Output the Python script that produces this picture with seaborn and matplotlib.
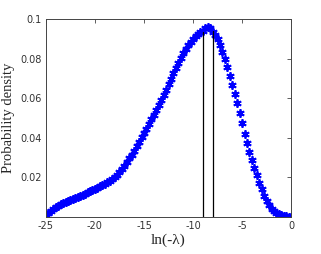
import matplotlib
matplotlib.use("Agg")
import matplotlib.pyplot as plt
import seaborn as sns
import pandas as pd

# ln(-lambda) values and their estimated probability density
ln_lambda = [-25.0, -24.75, -24.5, -24.25, -24.0, -23.75, -23.5, -23.25, -23.0, -22.75,
             -22.5, -22.25, -22.0, -21.75, -21.5, -21.25, -21.0, -20.75, -20.5, -20.25,
             -20.0, -19.75, -19.5, -19.25, -19.0, -18.75, -18.5, -18.25, -18.0, -17.75,
             -17.5, -17.25, -17.0, -16.75, -16.5, -16.25, -16.0, -15.75, -15.5, -15.25,
             -15.0, -14.75, -14.5, -14.25, -14.0, -13.75, -13.5, -13.25, -13.0, -12.75,
             -12.5, -12.25, -12.0, -11.75, -11.5, -11.25, -11.0, -10.75, -10.5, -10.25,
             -10.0, -9.75, -9.5, -9.25, -9.0, -8.75, -8.5, -8.25, -8.0, -7.75,
             -7.5, -7.25, -7.0, -6.75, -6.5, -6.25, -6.0, -5.75, -5.5, -5.25,
             -5.0, -4.75, -4.5, -4.25, -4.0, -3.75, -3.5, -3.25, -3.0, -2.75,
             -2.5, -2.25, -2.0, -1.75, -1.5, -1.25, -1.0, -0.75, -0.5, -0.25, 0.0]
density = [0.0008, 0.0018, 0.0030, 0.0041, 0.0050, 0.0057, 0.0064, 0.0071, 0.0077, 0.0082,
           0.0088, 0.0093, 0.0098, 0.0103, 0.0108, 0.0113, 0.0118, 0.0124, 0.0130, 0.0136,
           0.0142, 0.0148, 0.0154, 0.0161, 0.0168, 0.0175, 0.0183, 0.0192, 0.0202, 0.0214,
           0.0228, 0.0243, 0.0260, 0.0277, 0.0296, 0.0315, 0.0335, 0.0357, 0.0380, 0.0403,
           0.0427, 0.0447, 0.0468, 0.0493, 0.0518, 0.0541, 0.0565, 0.0590, 0.0616, 0.0644,
           0.0672, 0.0699, 0.0726, 0.0752, 0.0778, 0.0803, 0.0827, 0.0850, 0.0870, 0.0887,
           0.0902, 0.0914, 0.0925, 0.0934, 0.0942, 0.0955, 0.0963, 0.0958, 0.0935, 0.0922,
           0.0900, 0.0870, 0.0835, 0.0800, 0.0760, 0.0715, 0.0667, 0.0620, 0.0574, 0.0525,
           0.0473, 0.0420, 0.0372, 0.0330, 0.0290, 0.0250, 0.0210, 0.0173, 0.0140, 0.0108,
           0.0080, 0.0058, 0.0042, 0.0030, 0.0020, 0.0014, 0.0010, 0.0007, 0.0004, 0.0002, 0.0001]

# vertical marker lines
vline_x = [-9.0, -8.0]
vline_top = [0.0935, 0.0940]

x_ticks = [-25, -20, -15, -10, -5, 0]
y_ticks = [0.02, 0.04, 0.06, 0.08, 0.1]
y_tick_labels = ["0.02", "0.04", "0.06", "0.08", "0.1"]

df = pd.DataFrame({"x": ln_lambda, "y": density})

sns.set_style("white")
fig = plt.figure(figsize=(3.21, 2.54), dpi=100)
ax = fig.add_axes([0.143, 0.146, 0.764, 0.778])

sns.lineplot(data=df, x="x", y="y", ax=ax, linestyle="", marker=(6, 2, 0),
             markersize=6, markeredgecolor="blue", markeredgewidth=1.3,
             color="blue", estimator=None, sort=False)

for xv, top in zip(vline_x, vline_top):
    ax.plot([xv, xv], [0, top], color="black", linewidth=0.9)

ax.set_xlim(-25, 0)
ax.set_ylim(0, 0.1)
ax.set_xticks(x_ticks)
ax.set_xticklabels([str(t) for t in x_ticks])
ax.set_yticks(y_ticks)
ax.set_yticklabels(y_tick_labels)
ax.tick_params(direction="in", length=3, width=0.6, color="#444444",
               labelsize=7, top=True, right=True, pad=3, labelcolor="#333333")
for s in ax.spines.values():
    s.set_color("#444444")
    s.set_linewidth(0.7)

ax.set_xlabel("ln(-λ)", family="Liberation Serif", fontsize=11, labelpad=2)
ax.set_ylabel("Probability density", family="Liberation Serif", fontsize=10.5, labelpad=4)

fig.savefig("out.png", dpi=100)
